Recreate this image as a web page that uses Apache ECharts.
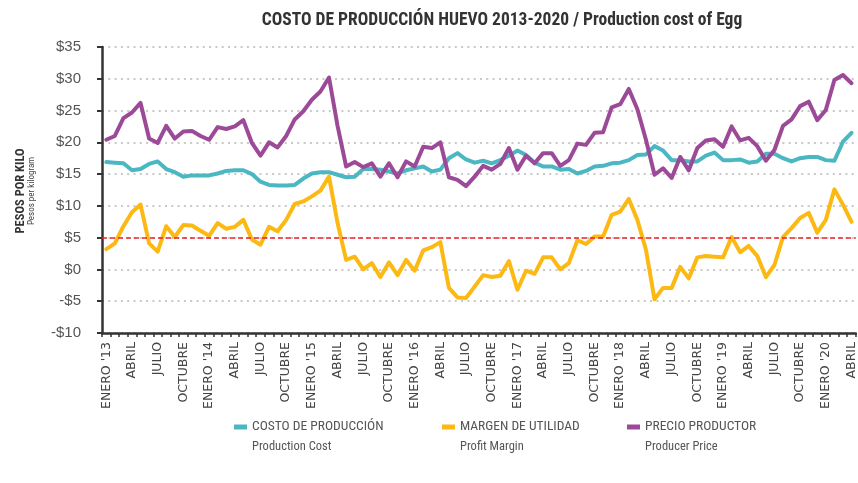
<!DOCTYPE html>
<html>
<head>
<meta charset="utf-8">
<script src="https://cdn.jsdelivr.net/npm/echarts@6/dist/echarts.min.js"></script>
<style>
  html, body { margin: 0; padding: 0; background: #fff; }
  #chart { width: 858px; height: 483px; }
</style>
</head>
<body>
<div id="chart"></div>
<script>
// Monthly categories, January 2013 to April 2020
const monthNames = ['ENERO', 'FEBRERO', 'MARZO', 'ABRIL', 'MAYO', 'JUNIO', 'JULIO', 'AGOSTO', 'SEPTIEMBRE', 'OCTUBRE', 'NOVIEMBRE', 'DICIEMBRE'];
const years = ['13', '14', '15', '16', '17', '18', '19', '20'];
const months = [];
years.forEach(function (y, yi) {
  const count = yi === years.length - 1 ? 4 : 12;
  for (let m = 0; m < count; m++) {
    months.push(m === 0 ? monthNames[m] + " '" + y : monthNames[m]);
  }
});

// Pesos per kilogram
const productionCost = [
  16.9, 16.8, 16.7, 15.6, 15.8, 16.6, 17.0, 15.8, 15.3, 14.6, 14.8, 14.8,
  14.8, 15.1, 15.5, 15.6, 15.6, 15.0, 13.8, 13.3, 13.2, 13.2, 13.3, 14.3,
  15.1, 15.3, 15.3, 14.9, 14.5, 14.6, 15.8, 15.8, 15.7, 15.4, 15.1, 15.6,
  15.9, 16.2, 15.4, 15.7, 17.5, 18.3, 17.3, 16.8, 17.1, 16.7, 17.2, 17.9,
  18.7, 18.0, 16.8, 16.2, 16.2, 15.7, 15.8, 15.1, 15.5, 16.2, 16.3, 16.7,
  16.8, 17.2, 18.0, 18.1, 19.4, 18.7, 17.2, 17.2, 17.0, 17.0, 17.9, 18.4,
  17.2, 17.2, 17.3, 16.8, 17.0, 18.2, 18.2, 17.5, 17.0, 17.5, 17.7, 17.7,
  17.2, 17.1, 20.1, 21.5
];
const profitMargin = [
  3.2, 4.1, 6.8, 9.0, 10.2, 4.1, 2.8, 6.8, 5.1, 7.0, 6.9, 6.1,
  5.3, 7.3, 6.4, 6.7, 7.8, 4.7, 3.9, 6.7, 6.0, 7.8, 10.3, 10.7,
  11.5, 12.4, 14.6, 7.3, 1.5, 2.0, 0.0, 1.0, -1.2, 1.1, -0.9, 1.5,
  -0.2, 3.0, 3.5, 4.3, -2.9, -4.4, -4.5, -2.7, -0.9, -1.2, -1.0, 1.3,
  -3.2, -0.2, -0.7, 1.9, 1.9, 0.0, 1.0, 4.6, 4.0, 5.2, 5.2, 8.6,
  9.1, 11.1, 7.8, 3.1, -4.7, -2.9, -2.9, 0.4, -1.4, 1.9, 2.1, 2.0,
  1.9, 5.1, 2.7, 3.7, 2.1, -1.2, 0.7, 5.1, 6.5, 8.1, 8.9, 5.8,
  7.8, 12.6, 10.2, 7.5
];
const producerPrice = [
  20.4, 21.0, 23.8, 24.7, 26.2, 20.6, 19.9, 22.6, 20.6, 21.7, 21.8, 21.0,
  20.4, 22.4, 22.1, 22.5, 23.5, 19.9, 17.9, 20.0, 19.2, 21.0, 23.6, 24.9,
  26.7, 28.0, 30.2, 22.6, 16.2, 16.9, 16.1, 16.7, 14.6, 16.7, 14.5, 17.0,
  16.2, 19.3, 19.1, 20.0, 14.5, 14.1, 13.1, 14.6, 16.3, 15.7, 16.6, 19.1,
  15.7, 17.9, 16.7, 18.3, 18.3, 16.3, 17.2, 19.8, 19.6, 21.5, 21.6, 25.5,
  26.0, 28.4, 25.2, 20.4, 14.9, 15.9, 14.4, 17.7, 15.6, 19.1, 20.3, 20.5,
  19.3, 22.5, 20.3, 20.7, 19.4, 17.1, 18.8, 22.6, 23.6, 25.7, 26.4, 23.5,
  25.1, 29.8, 30.6, 29.3
];
const referenceMargin = 5;

const seriesNames = ['COSTO DE PRODUCCIÓN', 'MARGEN DE UTILIDAD', 'PRECIO PRODUCTOR'];
const seriesSubNames = ['Production Cost', 'Profit Margin', 'Producer Price'];
const colors = ['#4bb7c2', '#fdb913', '#9c4a98'];

const condensed = "'Liberation Sans Narrow', 'Roboto Condensed', 'Arial Narrow', Roboto, sans-serif";
const legendLefts = [234, 442, 627];

const chart = echarts.init(document.getElementById('chart'), null, { renderer: 'canvas' });

const lineSeries = [productionCost, profitMargin, producerPrice].map(function (d, i) {
  return {
    name: seriesNames[i],
    type: 'line',
    data: d,
    showSymbol: false,
    symbol: 'none',
    lineStyle: { width: 4, color: colors[i], join: 'round', cap: 'round' },
    itemStyle: { color: colors[i] },
    animation: false,
    z: 3 + i
  };
});

// Dashed reference at $5
lineSeries.unshift({
  name: 'ref',
  type: 'line',
  data: [],
  silent: true,
  animation: false,
  markLine: {
    silent: true,
    symbol: ['none', 'none'],
    label: { show: false },
    lineStyle: { color: '#e8262a', type: [5, 3], width: 1.5 },
    data: [{ yAxis: referenceMargin }]
  },
  z: 2
});

const legends = seriesNames.map(function (n, i) {
  return {
    data: [{ name: n, icon: 'rect', itemStyle: { color: colors[i] } }],
    left: legendLefts[i],
    top: 420,
    padding: 0,
    itemWidth: 13,
    itemHeight: 5,
    itemGap: 5,
    selectedMode: false,
    textStyle: { fontFamily: condensed, fontSize: 13.5, color: '#555' }
  };
});

const subTexts = seriesSubNames.map(function (n, i) {
  return {
    type: 'text',
    left: legendLefts[i] + 18,
    top: 440,
    style: { text: n, font: '12.5px ' + condensed, fill: '#555' }
  };
});

chart.setOption({
  backgroundColor: '#ffffff',
  animation: false,
  title: {
    text: 'COSTO DE PRODUCCIÓN HUEVO 2013-2020 / Production cost of Egg',
    left: 497,
    textAlign: 'center',
    top: 7,
    textStyle: { fontFamily: condensed, fontSize: 17.5, fontWeight: 'bold', color: '#333' }
  },
  legend: legends,
  grid: { left: 102, top: 47, width: 758, height: 286, containLabel: false },
  xAxis: {
    type: 'category',
    data: months,
    boundaryGap: true,
    axisLine: { show: true, onZero: false, lineStyle: { color: '#333', width: 2.5 } },
    axisTick: { show: true, interval: 0, length: 4, lineStyle: { color: '#333', width: 1.5 } },
    axisLabel: {
      interval: 2,
      rotate: 90,
      margin: 9,
      fontFamily: 'DejaVu Sans',
      fontSize: 12.5,
      color: '#444'
    },
    splitLine: { show: false }
  },
  yAxis: {
    type: 'value',
    min: -10,
    max: 35,
    interval: 5,
    axisLine: { show: true, lineStyle: { color: '#333', width: 2.5 } },
    axisTick: { show: true, length: 5, lineStyle: { color: '#333', width: 2 } },
    axisLabel: {
      margin: 21,
      fontFamily: 'Liberation Sans',
      fontSize: 15,
      color: '#555',
      formatter: function (v) { return v < 0 ? '-$' + Math.abs(v) : '$' + v; }
    },
    splitLine: { show: true, lineStyle: { color: '#c8c8c8', width: 2, type: [2, 4.3] } }
  },
  graphic: [
    {
      type: 'text',
      x: 27,
      y: 191,
      rotation: Math.PI / 2,
      style: { text: 'PESOS POR KILO', font: 'bold 12.5px ' + condensed, fill: '#333', align: 'center', verticalAlign: 'bottom' }
    },
    {
      type: 'text',
      x: 27,
      y: 191,
      rotation: Math.PI / 2,
      style: { text: 'Pesos per kilogram', font: '9px ' + condensed, fill: '#444', align: 'center', verticalAlign: 'top' }
    }
  ].concat(subTexts),
  series: lineSeries
});
</script>
</body>
</html>
